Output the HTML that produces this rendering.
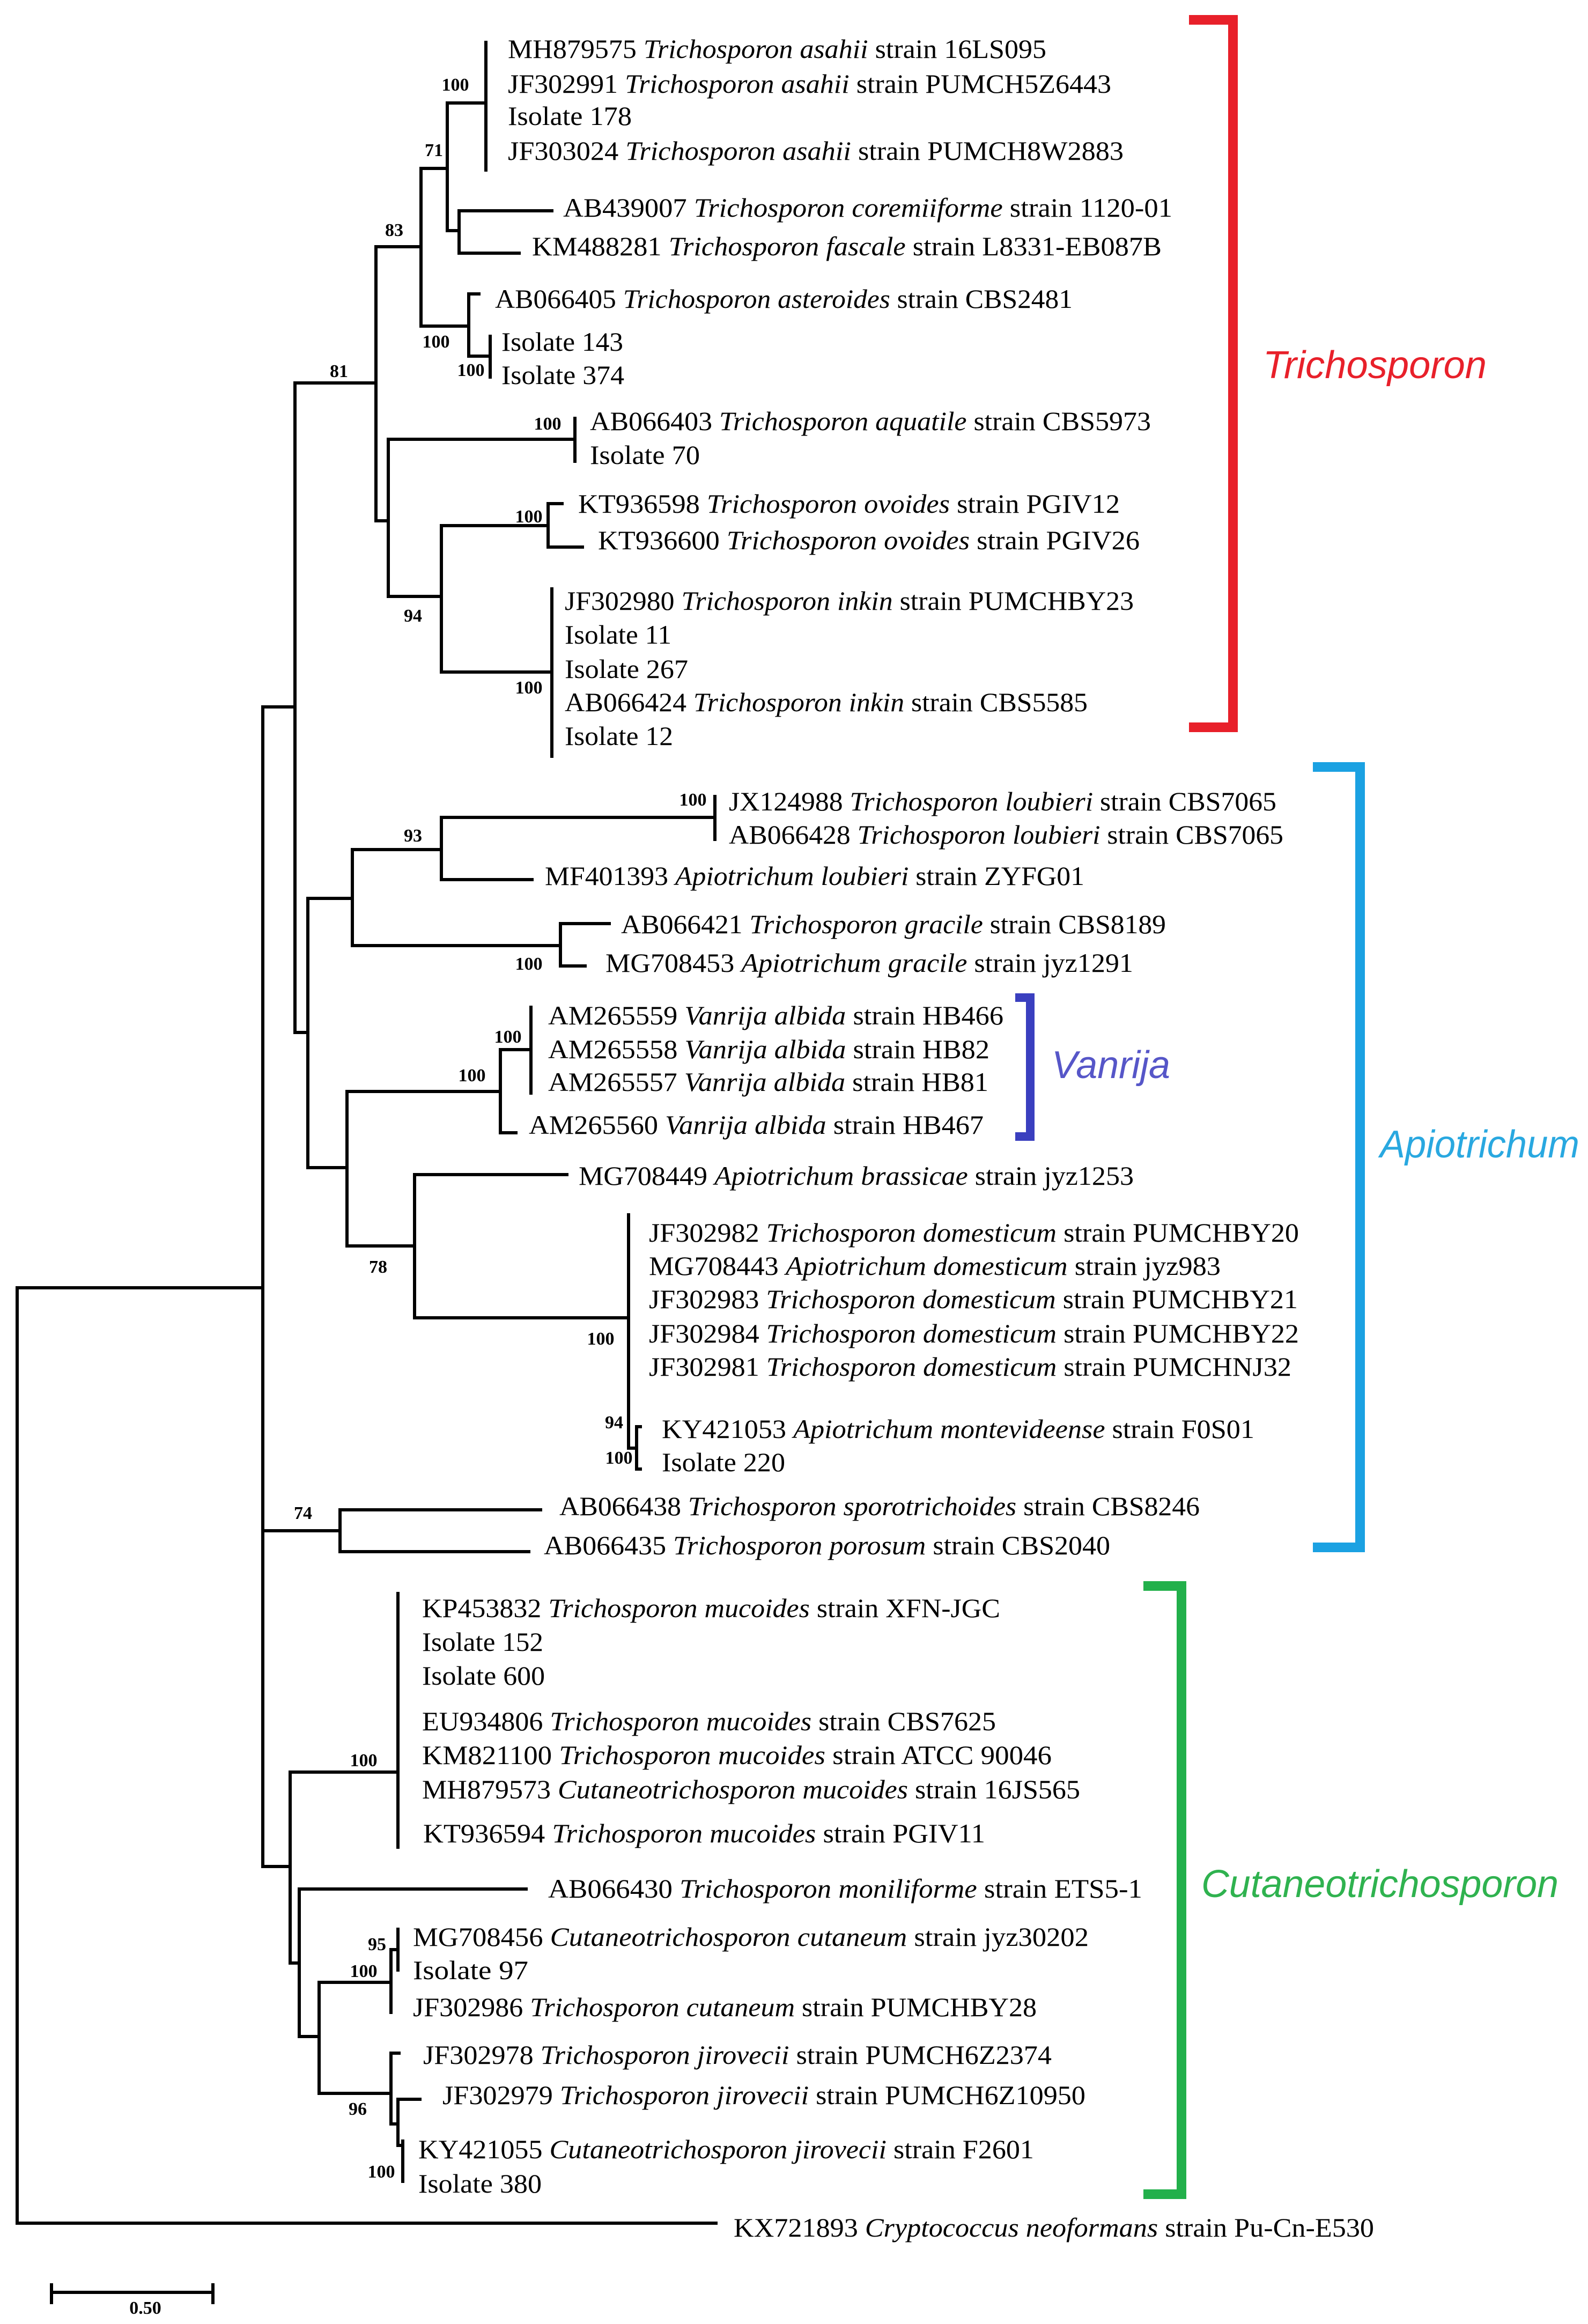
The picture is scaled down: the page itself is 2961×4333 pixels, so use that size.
<!DOCTYPE html>
<html><head><meta charset="utf-8"><style>
html,body{margin:0;padding:0;background:#fff;}
svg{display:block;}
.l{font-family:"Liberation Serif",serif;font-size:50px;fill:#000;}
.b{font-family:"Liberation Serif",serif;font-size:34px;font-weight:bold;fill:#000;text-anchor:middle;}
.g{font-family:"Liberation Sans",sans-serif;font-style:italic;font-size:72px;}
</style></head><body>
<svg width="2961" height="4333" viewBox="0 0 2961 4333" xmlns="http://www.w3.org/2000/svg">
<rect width="2961" height="4333" fill="#fff"/>
<g stroke="#000" stroke-width="6" fill="none" stroke-linecap="square">
<!-- root -->
<path d="M32 2401V4145H1335M32 2401H490"/>
<path d="M490 1318V3480M490 1318H550M490 2854H634M490 3480H541"/>
<!-- Trichosporon -->
<path d="M550 714V1925H574M550 714H701"/>
<path d="M701 460V971M701 460H785M701 971H724"/>
<path d="M785 314V608M785 314H834M785 608H874"/>
<path d="M834 192V430M834 192H906M834 430H856"/>
<path d="M906 79V317"/>
<path d="M856 393V472M856 393H1029M856 472H968"/>
<path d="M874 548V664M874 548H893M874 664H914M914 627V703"/>
<path d="M724 819V1112M724 819H1072M1072 780V860M724 1112H823"/>
<path d="M823 980V1253M823 980H1022M1022 939V1020M1022 939H1048M1022 1020H1086M823 1253H1029M1029 1098V1410"/>
<!-- Apiotrichum -->
<path d="M574 1675V2177M574 1675H657M574 2177H647"/>
<path d="M657 1584V1763M657 1584H823M657 1763H1045"/>
<path d="M823 1524V1640M823 1524H1333M1333 1485V1565M823 1640H992"/>
<path d="M1045 1722V1801M1045 1722H1136M1045 1801H1091"/>
<path d="M647 2035V2323M647 2035H933M647 2323H773"/>
<path d="M933 1957V2112M933 1957H990M990 1878V2038M933 2112H962"/>
<path d="M773 2190V2457M773 2190H1057M773 2457H1172M1172 2265V2700H1187M1187 2660V2739M1187 2660H1194M1187 2739H1194"/>
<path d="M634 2815V2893M634 2815H1008M634 2893H986"/>
<!-- Cutaneotrichosporon -->
<path d="M541 3304V3660M541 3304H742M742 2971V3444"/>
<path d="M541 3660H558M558 3522V3797M558 3522H981M558 3797H595"/>
<path d="M595 3696V3903M595 3696H729M729 3635V3752M729 3635H742M742 3597V3673"/>
<path d="M595 3903H729M729 3828V3960M729 3828H744M729 3960H742M742 3914V4000M742 3914H783M742 4000H751M751 3992V4067"/>
<!-- scale -->
<path d="M96 4274H397M96 4260V4293M397 4260V4293"/>
</g>
<!-- brackets -->
<path d="M2217 37H2299V1356H2217" stroke="#e8202a" stroke-width="18" fill="none"/>
<path d="M2448 1430H2536V2885H2448" stroke="#1ba1e2" stroke-width="18" fill="none"/>
<path d="M1893 1860H1921V2119H1893" stroke="#3a3fbf" stroke-width="16" fill="none"/>
<path d="M2132 2957H2203V4091H2132" stroke="#22b04b" stroke-width="18" fill="none"/>
<text class="g" x="2355" y="705" fill="#e8202a" textLength="417" lengthAdjust="spacingAndGlyphs">Trichosporon</text>
<text class="g" x="2573" y="2158" fill="#29a8e0" textLength="372" lengthAdjust="spacingAndGlyphs">Apiotrichum</text>
<text class="g" x="1961" y="2010" fill="#5656c8" textLength="221" lengthAdjust="spacingAndGlyphs">Vanrija</text>
<text class="g" x="2240" y="3537" fill="#2fb24f" textLength="666" lengthAdjust="spacingAndGlyphs">Cutaneotrichosporon</text>
<!-- bootstrap -->
<g class="b">
<text x="849" y="169">100</text><text x="809" y="291">71</text><text x="735" y="440">83</text>
<text x="813" y="648">100</text><text x="878" y="701">100</text><text x="632" y="703">81</text>
<text x="1021" y="801">100</text><text x="986" y="974">100</text><text x="770" y="1159">94</text>
<text x="986" y="1293">100</text><text x="1292" y="1502">100</text><text x="770" y="1569">93</text>
<text x="986" y="1808">100</text><text x="947" y="1944">100</text><text x="880" y="2016">100</text>
<text x="705" y="2373">78</text><text x="1120" y="2507">100</text><text x="1145" y="2663">94</text>
<text x="1154" y="2729">100</text><text x="565" y="2832">74</text><text x="678" y="3293">100</text>
<text x="703" y="3636">95</text><text x="678" y="3686">100</text><text x="667" y="3943">96</text>
<text x="711" y="4060">100</text><text x="271" y="4314">0.50</text>
</g>
<g class="l">
<text x="947" y="108" textLength="1004" lengthAdjust="spacingAndGlyphs">MH879575 <tspan font-style="italic">Trichosporon asahii</tspan> strain 16LS095</text>
<text x="947" y="173" textLength="1125" lengthAdjust="spacingAndGlyphs">JF302991 <tspan font-style="italic">Trichosporon asahii</tspan> strain PUMCH5Z6443</text>
<text x="947" y="233" textLength="231" lengthAdjust="spacingAndGlyphs">Isolate 178</text>
<text x="947" y="298" textLength="1148" lengthAdjust="spacingAndGlyphs">JF303024 <tspan font-style="italic">Trichosporon asahii</tspan> strain PUMCH8W2883</text>
<text x="1050" y="404" textLength="1136" lengthAdjust="spacingAndGlyphs">AB439007 <tspan font-style="italic">Trichosporon coremiiforme</tspan> strain 1120-01</text>
<text x="992" y="476" textLength="1174" lengthAdjust="spacingAndGlyphs">KM488281 <tspan font-style="italic">Trichosporon fascale</tspan> strain L8331-EB087B</text>
<text x="923" y="574" textLength="1077" lengthAdjust="spacingAndGlyphs">AB066405 <tspan font-style="italic">Trichosporon asteroides</tspan> strain CBS2481</text>
<text x="935" y="654" textLength="227" lengthAdjust="spacingAndGlyphs">Isolate 143</text>
<text x="935" y="716" textLength="229" lengthAdjust="spacingAndGlyphs">Isolate 374</text>
<text x="1100" y="802" textLength="1046" lengthAdjust="spacingAndGlyphs">AB066403 <tspan font-style="italic">Trichosporon aquatile</tspan> strain CBS5973</text>
<text x="1100" y="865" textLength="205" lengthAdjust="spacingAndGlyphs">Isolate 70</text>
<text x="1078" y="956" textLength="1010" lengthAdjust="spacingAndGlyphs">KT936598 <tspan font-style="italic">Trichosporon ovoides</tspan> strain PGIV12</text>
<text x="1115" y="1024" textLength="1010" lengthAdjust="spacingAndGlyphs">KT936600 <tspan font-style="italic">Trichosporon ovoides</tspan> strain PGIV26</text>
<text x="1053" y="1137" textLength="1061" lengthAdjust="spacingAndGlyphs">JF302980 <tspan font-style="italic">Trichosporon inkin</tspan> strain PUMCHBY23</text>
<text x="1053" y="1200" textLength="199" lengthAdjust="spacingAndGlyphs">Isolate 11</text>
<text x="1053" y="1264" textLength="230" lengthAdjust="spacingAndGlyphs">Isolate 267</text>
<text x="1053" y="1326" textLength="975" lengthAdjust="spacingAndGlyphs">AB066424 <tspan font-style="italic">Trichosporon inkin</tspan> strain CBS5585</text>
<text x="1053" y="1389" textLength="202" lengthAdjust="spacingAndGlyphs">Isolate 12</text>
<text x="1359" y="1511" textLength="1021" lengthAdjust="spacingAndGlyphs">JX124988 <tspan font-style="italic">Trichosporon loubieri</tspan> strain CBS7065</text>
<text x="1359" y="1573" textLength="1034" lengthAdjust="spacingAndGlyphs">AB066428 <tspan font-style="italic">Trichosporon loubieri</tspan> strain CBS7065</text>
<text x="1016" y="1650" textLength="1006" lengthAdjust="spacingAndGlyphs">MF401393 <tspan font-style="italic">Apiotrichum loubieri</tspan> strain ZYFG01</text>
<text x="1158" y="1740" textLength="1016" lengthAdjust="spacingAndGlyphs">AB066421 <tspan font-style="italic">Trichosporon gracile</tspan> strain CBS8189</text>
<text x="1129" y="1812" textLength="984" lengthAdjust="spacingAndGlyphs">MG708453 <tspan font-style="italic">Apiotrichum gracile</tspan> strain jyz1291</text>
<text x="1022" y="1910" textLength="849" lengthAdjust="spacingAndGlyphs">AM265559 <tspan font-style="italic">Vanrija albida</tspan> strain HB466</text>
<text x="1022" y="1973" textLength="823" lengthAdjust="spacingAndGlyphs">AM265558 <tspan font-style="italic">Vanrija albida</tspan> strain HB82</text>
<text x="1022" y="2034" textLength="821" lengthAdjust="spacingAndGlyphs">AM265557 <tspan font-style="italic">Vanrija albida</tspan> strain HB81</text>
<text x="986" y="2114" textLength="848" lengthAdjust="spacingAndGlyphs">AM265560 <tspan font-style="italic">Vanrija albida</tspan> strain HB467</text>
<text x="1079" y="2209" textLength="1035" lengthAdjust="spacingAndGlyphs">MG708449 <tspan font-style="italic">Apiotrichum brassicae</tspan> strain jyz1253</text>
<text x="1210" y="2315" textLength="1212" lengthAdjust="spacingAndGlyphs">JF302982 <tspan font-style="italic">Trichosporon domesticum</tspan> strain PUMCHBY20</text>
<text x="1210" y="2377" textLength="1066" lengthAdjust="spacingAndGlyphs">MG708443 <tspan font-style="italic">Apiotrichum domesticum</tspan> strain jyz983</text>
<text x="1210" y="2439" textLength="1210" lengthAdjust="spacingAndGlyphs">JF302983 <tspan font-style="italic">Trichosporon domesticum</tspan> strain PUMCHBY21</text>
<text x="1210" y="2503" textLength="1212" lengthAdjust="spacingAndGlyphs">JF302984 <tspan font-style="italic">Trichosporon domesticum</tspan> strain PUMCHBY22</text>
<text x="1210" y="2565" textLength="1198" lengthAdjust="spacingAndGlyphs">JF302981 <tspan font-style="italic">Trichosporon domesticum</tspan> strain PUMCHNJ32</text>
<text x="1234" y="2681" textLength="1105" lengthAdjust="spacingAndGlyphs">KY421053 <tspan font-style="italic">Apiotrichum montevideense</tspan> strain F0S01</text>
<text x="1234" y="2743" textLength="230" lengthAdjust="spacingAndGlyphs">Isolate 220</text>
<text x="1043" y="2825" textLength="1194" lengthAdjust="spacingAndGlyphs">AB066438 <tspan font-style="italic">Trichosporon sporotrichoides</tspan> strain CBS8246</text>
<text x="1014" y="2898" textLength="1056" lengthAdjust="spacingAndGlyphs">AB066435 <tspan font-style="italic">Trichosporon porosum</tspan> strain CBS2040</text>
<text x="787" y="3015" textLength="1078" lengthAdjust="spacingAndGlyphs">KP453832 <tspan font-style="italic">Trichosporon mucoides</tspan> strain XFN-JGC</text>
<text x="787" y="3078" textLength="226" lengthAdjust="spacingAndGlyphs">Isolate 152</text>
<text x="787" y="3141" textLength="229" lengthAdjust="spacingAndGlyphs">Isolate 600</text>
<text x="787" y="3226" textLength="1070" lengthAdjust="spacingAndGlyphs">EU934806 <tspan font-style="italic">Trichosporon mucoides</tspan> strain CBS7625</text>
<text x="787" y="3289" textLength="1174" lengthAdjust="spacingAndGlyphs">KM821100 <tspan font-style="italic">Trichosporon mucoides</tspan> strain ATCC 90046</text>
<text x="787" y="3353" textLength="1227" lengthAdjust="spacingAndGlyphs">MH879573 <tspan font-style="italic">Cutaneotrichosporon mucoides</tspan> strain 16JS565</text>
<text x="789" y="3435" textLength="1048" lengthAdjust="spacingAndGlyphs">KT936594 <tspan font-style="italic">Trichosporon mucoides</tspan> strain PGIV11</text>
<text x="1022" y="3538" textLength="1108" lengthAdjust="spacingAndGlyphs">AB066430 <tspan font-style="italic">Trichosporon moniliforme</tspan> strain ETS5-1</text>
<text x="770" y="3628" textLength="1260" lengthAdjust="spacingAndGlyphs">MG708456 <tspan font-style="italic">Cutaneotrichosporon cutaneum</tspan> strain jyz30202</text>
<text x="770" y="3690" textLength="215" lengthAdjust="spacingAndGlyphs">Isolate 97</text>
<text x="770" y="3759" textLength="1163" lengthAdjust="spacingAndGlyphs">JF302986 <tspan font-style="italic">Trichosporon cutaneum</tspan> strain PUMCHBY28</text>
<text x="789" y="3848" textLength="1172" lengthAdjust="spacingAndGlyphs">JF302978 <tspan font-style="italic">Trichosporon jirovecii</tspan> strain PUMCH6Z2374</text>
<text x="825" y="3923" textLength="1199" lengthAdjust="spacingAndGlyphs">JF302979 <tspan font-style="italic">Trichosporon jirovecii</tspan> strain PUMCH6Z10950</text>
<text x="780" y="4024" textLength="1148" lengthAdjust="spacingAndGlyphs">KY421055 <tspan font-style="italic">Cutaneotrichosporon jirovecii</tspan> strain F2601</text>
<text x="780" y="4088" textLength="230" lengthAdjust="spacingAndGlyphs">Isolate 380</text>
<text x="1368" y="4170" textLength="1194" lengthAdjust="spacingAndGlyphs">KX721893 <tspan font-style="italic">Cryptococcus neoformans</tspan> strain Pu-Cn-E530</text>
</g>
</svg>
</body></html>
